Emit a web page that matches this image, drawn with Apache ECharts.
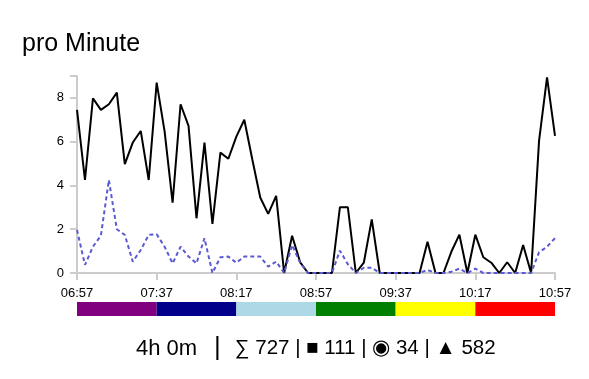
<!DOCTYPE html>
<html>
<head>
<meta charset="utf-8">
<script src="https://cdn.jsdelivr.net/npm/echarts@6/dist/echarts.min.js"></script>
<style>
html,body{margin:0;padding:0;background:#fff;}
#chart{width:589px;height:379px;}
</style>
</head>
<body>
<div id="chart"></div>
<script>
var times = ["06:57","07:01","07:05","07:09","07:13","07:17","07:21","07:25","07:29","07:33",
  "07:37","07:41","07:45","07:49","07:53","07:57","08:01","08:05","08:09","08:13",
  "08:17","08:21","08:25","08:29","08:33","08:37","08:41","08:45","08:49","08:53",
  "08:57","09:01","09:05","09:09","09:13","09:17","09:21","09:25","09:29","09:33",
  "09:37","09:41","09:45","09:49","09:53","09:57","10:01","10:05","10:09","10:13",
  "10:17","10:21","10:25","10:29","10:33","10:37","10:41","10:45","10:49","10:53","10:57"];

var totalPerMinute = [7.45,4.25,7.98,7.45,7.71,8.24,4.97,5.96,6.49,4.25,
  8.7,6.46,3.21,7.71,6.72,2.5,5.96,2.24,5.5,5.22,
  6.23,7.0,5.2,3.45,2.7,3.52,0,1.7,0.5,0,
  0,0,0,3.0,3.0,0,0.47,2.45,0,0,
  0,0,0,0,1.43,0,0,0.98,1.75,0,
  1.75,0.72,0.47,0,0.49,0,1.28,0,6.05,8.94,6.26];

var secondPerMinute = [1.97,0.37,1.2,1.71,4.25,2.0,1.74,0.52,1.05,1.74,
  1.77,1.2,0.44,1.2,0.75,0.44,1.59,0,0.72,0.75,
  0.47,0.75,0.75,0.75,0.29,0.52,0,1.28,0.47,0,
  0,0,0,1.02,0.4,0,0.24,0.24,0,0,
  0,0,0,0,0.14,0,0,0.06,0.2,0,
  0.2,0,0,0,0,0,0,0,0.95,1.2,1.59];

var segmentMinutes = [40,40,40,40,40,40];
var segmentColors = ["#800080","#00008b","#add8e6","#008000","#ffff00","#ff0000"];

var titleText = "pro Minute";
var durationText = "4h 0m";
var statsText = "\u2211 727 | \u25A0 111 | \u25C9 34 | \u25B2 582";

var FONT = "'Liberation Sans', Arial, sans-serif";

var chart = echarts.init(document.getElementById('chart'), null, {renderer:'canvas'});

var bandSeries = segmentMinutes.map(function(m, i){
  return {
    type:'bar', xAxisIndex:1, yAxisIndex:1, stack:'band',
    data:[m], barWidth:14, silent:true,
    itemStyle:{color:segmentColors[i]}, animation:false
  };
});

var option = {
  animation:false,
  textStyle:{fontFamily:FONT},
  title:{
    text:titleText, left:17, top:27,
    textStyle:{fontFamily:FONT, fontSize:25, fontWeight:'normal', color:'#000'}
  },
  grid:[
    {left:77, right:34, top:76, bottom:106},
    {left:77, right:34, top:302, height:14}
  ],
  xAxis:[{
    type:'category', gridIndex:0, data:times, boundaryGap:false,
    axisLine:{lineStyle:{color:'#cccccc', width:2}},
    axisTick:{interval:9, length:7, lineStyle:{color:'#cccccc', width:2}},
    axisLabel:{interval:9, margin:14, color:'#000', fontSize:13, fontFamily:FONT},
    splitLine:{show:false}
  },{
    type:'value', gridIndex:1, min:0, max:240, show:false
  }],
  yAxis:[{
    type:'value', gridIndex:0, min:0, max:9, interval:2,
    axisLine:{show:true, lineStyle:{color:'#cccccc', width:2}},
    axisTick:{show:true, length:7, lineStyle:{color:'#cccccc', width:2}},
    axisLabel:{margin:13, color:'#000', fontSize:13, fontFamily:FONT,
      formatter:function(v){ return (v % 2 === 0) ? String(v) : ''; }},
    splitLine:{show:false}
  },{
    type:'category', gridIndex:1, data:['band'], show:false
  }],
  series:[{
    type:'line', data:totalPerMinute, symbol:'none', clip:false,
    lineStyle:{color:'#000', width:2}, z:3
  },{
    type:'line', data:secondPerMinute, symbol:'none', clip:false,
    lineStyle:{color:'#5a5ad2', width:2, type:[4,3]}, z:4
  }].concat(bandSeries),
  graphic:[
    {type:'text', left:136, top:338, style:{text:durationText, font:'22px ' + FONT, fill:'#000'}},
    {type:'text', left:214, top:335, style:{text:'|', font:'26px ' + FONT, fill:'#000'}},
    {type:'text', left:235, top:338, style:{text:statsText, font:'20.5px ' + FONT, fill:'#000'}}
  ]
};
chart.setOption(option);
</script>
</body>
</html>
